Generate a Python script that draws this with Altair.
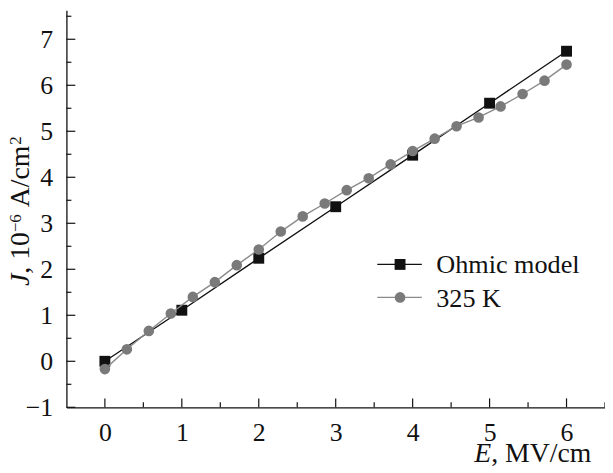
import altair as alt
import pandas as pd

# ---- data ----
ohm_x = [0, 1, 2, 3, 4, 5, 6]
ohm_y = [0.0, 1.11, 2.24, 3.36, 4.48, 5.61, 6.74]

k_x = [0.0, 0.286, 0.571, 0.857, 1.143, 1.429, 1.714, 2.0, 2.286, 2.571, 2.857,
       3.143, 3.429, 3.714, 4.0, 4.286, 4.571, 4.857, 5.143, 5.429, 5.714, 6.0]
k_y = [-0.17, 0.26, 0.66, 1.04, 1.40, 1.72, 2.09, 2.43, 2.82, 3.15, 3.43,
       3.72, 3.98, 4.28, 4.57, 4.84, 5.11, 5.30, 5.54, 5.81, 6.10, 6.45]

x_major = [0, 1, 2, 3, 4, 5, 6]
x_minor = [0.5, 1.5, 2.5, 3.5, 4.5, 5.5, 6.5]
y_major = [-1, 0, 1, 2, 3, 4, 5, 6, 7]
y_minor = [-0.5, 0.5, 1.5, 2.5, 3.5, 4.5, 5.5, 6.5, 7.5]

legend_labels = ["Ohmic model", "325 K"]
x_title_parts = ["E", ", MV/cm"]
y_title_parts = ["J", ", 10", "\u22126", "A/cm", "2"]

# ---- style ----
W, H = 544, 401
FONT = "Liberation Serif"
FS_TICK = 26
FS_LEG = 26.5
FS_TITLE = 28
FS_SUP = 17
BLACK = "#111111"
GRAY_PT = "#7a7a7a"
GRAY_LN = "#8a8a8a"

xs = alt.Scale(domain=[-0.5, 6.5], nice=False, zero=False)
ys = alt.Scale(domain=[-1, 7.63], nice=False, zero=False)

axis_common = dict(title=None, ticks=False, tickSize=0, grid=False,
                   labelFont=FONT, labelFontSize=FS_TICK, labelColor=BLACK,
                   domainColor=BLACK, domainWidth=1.3)
x_axis = alt.Axis(values=x_major, labelPadding=13, **axis_common)
y_axis = alt.Axis(values=y_major, labelPadding=14, **axis_common)

def X(field):
    return alt.X(field, scale=xs, axis=x_axis, title=None)

def Y(field):
    return alt.Y(field, scale=ys, axis=y_axis, title=None)

ohm = pd.DataFrame({"x": ohm_x, "y": ohm_y})
kdf = pd.DataFrame({"x": k_x, "y": k_y})

ohm_line = alt.Chart(ohm).mark_line(color=BLACK, strokeWidth=1.4).encode(
    x=X("x:Q"), y=Y("y:Q"))
ohm_pts = alt.Chart(ohm).mark_point(shape="square", filled=True, size=121,
                                    color=BLACK, opacity=1).encode(x=X("x:Q"), y=Y("y:Q"))
k_line = alt.Chart(kdf).mark_line(color=GRAY_LN, strokeWidth=1.4).encode(
    x=X("x:Q"), y=Y("y:Q"))
k_pts = alt.Chart(kdf).mark_point(shape="circle", filled=True, size=115,
                                  color=GRAY_PT, opacity=1).encode(x=X("x:Q"), y=Y("y:Q"))

# inward ticks
def xticks(vals, length):
    return alt.Chart(pd.DataFrame({"x": vals})).mark_rule(color=BLACK, strokeWidth=1.2).encode(
        x=X("x:Q"), y=alt.value(H), y2=alt.value(H - length))

def yticks(vals, length):
    return alt.Chart(pd.DataFrame({"y": vals})).mark_rule(color=BLACK, strokeWidth=1.2).encode(
        y=Y("y:Q"), x=alt.value(0), x2=alt.value(length))

# legend
def legend_row(label, ycen, ybase, color_ln, color_pt, shape, size):
    d = pd.DataFrame({"label": [label]})
    ln = alt.Chart(d).mark_rule(color=color_ln, strokeWidth=1.4).encode(
        x=alt.value(314), x2=alt.value(359), y=alt.value(ycen))
    pt = alt.Chart(d).mark_point(shape=shape, filled=True, size=size,
                                 color=color_pt, opacity=1).encode(
        x=alt.value(337), y=alt.value(ycen))
    tx = alt.Chart(d).mark_text(font=FONT, fontSize=FS_LEG, color=BLACK, align="left",
                                baseline="alphabetic").encode(
        x=alt.value(373.5), y=alt.value(ybase), text="label:N")
    return ln + pt + tx

leg1 = legend_row(legend_labels[0], 256.7, 265.3, BLACK, BLACK, "square", 121)
leg2 = legend_row(legend_labels[1], 290, 299.8, GRAY_LN, GRAY_PT, "circle", 115)

# axis titles (italic variable + upright unit, small raised exponents)
def txt(s, x, y, size=FS_TITLE, italic=False, angle=0):
    kw = dict(font=FONT, fontSize=size, color=BLACK, align="left", baseline="alphabetic")
    if italic:
        kw["fontStyle"] = "italic"
    if angle:
        kw["angle"] = angle
    return alt.Chart(pd.DataFrame({"s": [s]})).mark_text(**kw).encode(
        x=alt.value(x), y=alt.value(y), text="s:N")

XT_Y = 456
xt1 = txt(x_title_parts[0], 412, XT_Y, italic=True)
xt2 = txt(x_title_parts[1], 412 + 0.611 * FS_TITLE, XT_Y)

YB = -37.5        # baseline (rotated text)
Y0 = 278.5        # start of the rotated title
SUP = 8           # superscript raise
y1 = Y0 - 0.444 * FS_TITLE
y2 = y1 - 1.5 * FS_TITLE
y3 = y2 - 1.064 * FS_SUP - 0.25 * FS_TITLE
y4 = y3 - 2.222 * FS_TITLE - 1
yt = [
    txt(y_title_parts[0], YB, Y0, italic=True, angle=270),
    txt(y_title_parts[1], YB, y1, angle=270),
    txt(y_title_parts[2], YB - SUP, y2, size=FS_SUP, angle=270),
    txt(y_title_parts[3], YB, y3, angle=270),
    txt(y_title_parts[4], YB - SUP, y4, size=FS_SUP, angle=270),
]

chart = alt.layer(
    ohm_line, xticks(x_major, 9), xticks(x_minor, 5), yticks(y_major, 9), yticks(y_minor, 5),
    ohm_pts, k_line, k_pts, leg1, leg2, xt1, xt2, *yt,
).properties(
    width=W, height=H,
    autosize=alt.AutoSizeParams(type="none"),
    padding={"left": 59, "top": 0, "right": 0, "bottom": 58},
    background="white",
).configure_view(stroke=None)

chart.save("out.html", embed_options={"renderer": "svg", "actions": False})
